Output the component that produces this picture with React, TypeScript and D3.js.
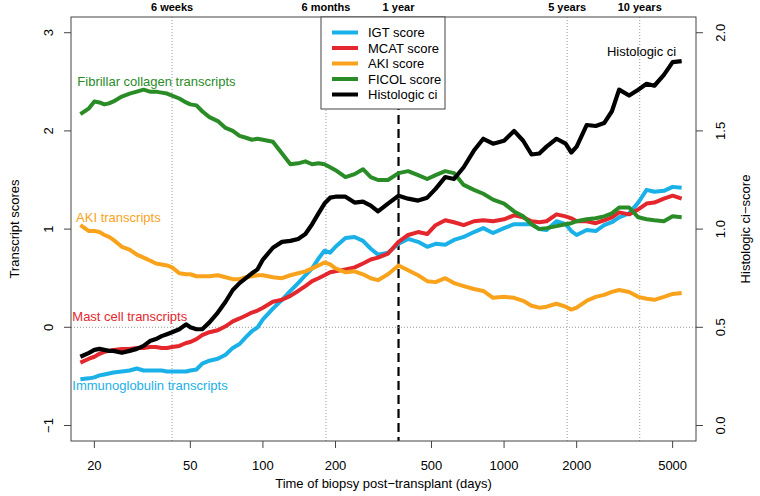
import * as d3 from 'd3'
import React, { useEffect, useRef } from 'react'

// time points (days post-transplant) shared by all running averages
const days = [17.5, 19, 20, 21, 22, 23, 24, 26, 28, 30, 32, 34, 36, 38, 40, 42, 45, 48, 50, 53,
  56, 60, 65, 70, 75, 80, 85, 90, 95, 100, 110, 120, 130, 140, 150, 160, 170, 180, 190, 200,
  220, 240, 260, 280, 300, 330, 365, 400, 440, 480, 520, 570, 620, 680, 750, 820, 900, 1000, 1100, 1200,
  1300, 1400, 1500, 1650, 1800, 1900, 2000, 2200, 2400, 2600, 2800, 3000, 3300, 3600, 3900, 4200, 4600, 5000, 5450]

const igtScore = [-0.53, -0.52, -0.51, -0.49, -0.48, -0.47, -0.46, -0.45, -0.44, -0.42,
  -0.44, -0.44, -0.44, -0.44, -0.45, -0.45, -0.45, -0.45, -0.44, -0.43,
  -0.37, -0.34, -0.32, -0.28, -0.21, -0.17, -0.10, -0.04, 0.00, 0.08,
  0.19, 0.28, 0.37, 0.45, 0.53, 0.60, 0.70, 0.78, 0.76, 0.82,
  0.91, 0.92, 0.88, 0.80, 0.74, 0.76, 0.85, 0.90, 0.87, 0.82,
  0.85, 0.84, 0.89, 0.92, 0.97, 1.01, 0.96, 1.01, 1.05, 1.05,
  1.05, 1.00, 0.99, 1.08, 1.05, 0.98, 0.94, 0.99, 0.98, 1.04,
  1.07, 1.12, 1.16, 1.27, 1.40, 1.38, 1.39, 1.43, 1.42]

const mcatScore = [-0.36, -0.32, -0.30, -0.27, -0.25, -0.24, -0.23, -0.22, -0.22, -0.21,
  -0.21, -0.20, -0.20, -0.21, -0.21, -0.20, -0.19, -0.16, -0.15, -0.12,
  -0.08, -0.05, -0.03, 0.01, 0.06, 0.09, 0.12, 0.15, 0.17, 0.20,
  0.26, 0.28, 0.32, 0.37, 0.42, 0.47, 0.50, 0.53, 0.56, 0.57,
  0.59, 0.61, 0.65, 0.69, 0.71, 0.75, 0.87, 0.94, 0.97, 0.95,
  1.04, 1.09, 1.07, 1.04, 1.08, 1.09, 1.08, 1.10, 1.14, 1.12,
  1.08, 1.07, 1.08, 1.15, 1.13, 1.11, 1.08, 1.08, 1.06, 1.09,
  1.12, 1.17, 1.15, 1.20, 1.26, 1.27, 1.31, 1.34, 1.31]

const akiScore = [1.04, 0.98, 0.98, 0.97, 0.94, 0.92, 0.89, 0.82, 0.79, 0.74,
  0.71, 0.68, 0.65, 0.64, 0.63, 0.61, 0.55, 0.54, 0.54, 0.52,
  0.52, 0.52, 0.53, 0.51, 0.49, 0.49, 0.51, 0.52, 0.53, 0.53,
  0.51, 0.50, 0.53, 0.55, 0.57, 0.60, 0.63, 0.66, 0.64, 0.60,
  0.56, 0.57, 0.54, 0.50, 0.48, 0.54, 0.63, 0.58, 0.53, 0.47,
  0.46, 0.50, 0.45, 0.42, 0.39, 0.37, 0.30, 0.31, 0.30, 0.27,
  0.22, 0.20, 0.21, 0.24, 0.21, 0.18, 0.20, 0.27, 0.31, 0.33,
  0.36, 0.38, 0.36, 0.31, 0.29, 0.28, 0.31, 0.34, 0.35]

const ficolScore = [2.17, 2.23, 2.30, 2.29, 2.27, 2.28, 2.30, 2.35, 2.38, 2.40,
  2.42, 2.40, 2.40, 2.39, 2.38, 2.36, 2.33, 2.29, 2.27, 2.26,
  2.20, 2.14, 2.10, 2.03, 2.00, 1.95, 1.93, 1.91, 1.92, 1.91,
  1.89, 1.77, 1.66, 1.67, 1.69, 1.66, 1.67, 1.66, 1.63, 1.60,
  1.53, 1.56, 1.61, 1.53, 1.50, 1.50, 1.57, 1.59, 1.55, 1.51,
  1.55, 1.59, 1.57, 1.45, 1.40, 1.36, 1.30, 1.26, 1.18, 1.13,
  1.05, 1.00, 1.01, 1.03, 1.05, 1.06, 1.08, 1.10, 1.11, 1.13,
  1.16, 1.22, 1.22, 1.12, 1.10, 1.09, 1.08, 1.13, 1.12]

// histologic ci-score (right axis)
const histologicCi = [0.35, 0.37, 0.385, 0.39, 0.385, 0.38, 0.38, 0.37, 0.38, 0.39,
  0.405, 0.43, 0.44, 0.455, 0.465, 0.475, 0.49, 0.515, 0.50, 0.49,
  0.49, 0.525, 0.575, 0.63, 0.69, 0.725, 0.75, 0.775, 0.795, 0.845,
  0.905, 0.935, 0.94, 0.95, 0.975, 1.025, 1.08, 1.13, 1.16, 1.165,
  1.165, 1.135, 1.14, 1.12, 1.09, 1.13, 1.17, 1.155, 1.145, 1.16,
  1.205, 1.265, 1.255, 1.315, 1.40, 1.46, 1.435, 1.45, 1.50, 1.45,
  1.38, 1.385, 1.42, 1.46, 1.435, 1.39, 1.42, 1.53, 1.525, 1.54,
  1.60, 1.71, 1.68, 1.71, 1.74, 1.73, 1.785, 1.85, 1.855]

const xTicks = [20, 50, 100, 200, 500, 1000, 2000, 5000]
const leftTicks = [-1, 0, 1, 2, 3]
const rightTicks = [0, 0.5, 1, 1.5, 2]
const milestoneLabels = ['6 weeks', '6 months', '1 year', '5 years', '10 years']
const milestoneDays = [42, 182.5, 365, 1826, 3652]

const seriesNames = ['IGT score', 'MCAT score', 'AKI score', 'FICOL score', 'Histologic ci']
const seriesColors = ['#1ab0e8', '#e3272d', '#f8a31b', '#2a8c27', '#000000']

const App = () => {
  const ref = useRef(null)

  useEffect(() => {
    const width = 760
    const height = 496
    const m = { left: 71, right: 696, top: 17, bottom: 441 }
    const font = 'Liberation Sans, Arial, Helvetica, sans-serif'

    const svg = d3.select(ref.current).attr('width', width).attr('height', height)
    svg.selectAll('*').remove()

    const x = d3.scaleLog().domain([16.0, 6250]).range([m.left, m.right])
    const yL = d3.scaleLinear().domain([-1.158, 3.16]).range([m.bottom, m.top])
    const yR = d3.scaleLinear().domain([(-1.158 + 1) / 2, (3.16 + 1) / 2]).range([m.bottom, m.top])

    const g = svg.append('g').attr('font-family', font)

    // reference lines
    milestoneDays.forEach((d, i) => {
      const isYear = i === 2
      g.append('line')
        .attr('x1', x(d)).attr('x2', x(d))
        .attr('y1', m.top).attr('y2', m.bottom)
        .attr('stroke', isYear ? '#000' : '#999')
        .attr('stroke-width', isYear ? 2.2 : 1)
        .attr('stroke-dasharray', isYear ? '9,5' : '1,2')
      g.append('text')
        .attr('x', x(d)).attr('y', 11)
        .attr('text-anchor', 'middle')
        .attr('font-size', 11).attr('font-weight', 'bold')
        .text(milestoneLabels[i])
    })
    g.append('line')
      .attr('x1', m.left).attr('x2', m.right)
      .attr('y1', yL(0)).attr('y2', yL(0))
      .attr('stroke', '#999').attr('stroke-dasharray', '1,2')

    // series
    const leftSeries = [igtScore, mcatScore, akiScore, ficolScore]
    leftSeries.forEach((vals, i) => {
      const line = d3.line<number>().x((_, j) => x(days[j])).y(v => yL(v))
      g.append('path')
        .datum(vals)
        .attr('d', line)
        .attr('fill', 'none')
        .attr('stroke', seriesColors[i])
        .attr('stroke-width', 4)
        .attr('stroke-linejoin', 'round')
    })
    const ciLine = d3.line<number>().x((_, j) => x(days[j])).y(v => yR(v))
    g.append('path')
      .datum(histologicCi)
      .attr('d', ciLine)
      .attr('fill', 'none')
      .attr('stroke', '#000')
      .attr('stroke-width', 4.2)
      .attr('stroke-linejoin', 'round')

    // box
    g.append('rect')
      .attr('x', m.left).attr('y', m.top)
      .attr('width', m.right - m.left).attr('height', m.bottom - m.top)
      .attr('fill', 'none').attr('stroke', '#444')

    // x axis
    xTicks.forEach(t => {
      g.append('line').attr('x1', x(t)).attr('x2', x(t))
        .attr('y1', m.bottom).attr('y2', m.bottom + 7).attr('stroke', '#444')
      g.append('text').attr('x', x(t)).attr('y', 470)
        .attr('text-anchor', 'middle').attr('font-size', 13).text(t)
    })
    g.append('text').attr('x', (m.left + m.right) / 2).attr('y', 488)
      .attr('text-anchor', 'middle').attr('font-size', 13)
      .text('Time of biopsy post\u2212transplant (days)')

    // left axis
    leftTicks.forEach(t => {
      g.append('line').attr('x1', m.left - 7).attr('x2', m.left)
        .attr('y1', yL(t)).attr('y2', yL(t)).attr('stroke', '#444')
      g.append('text')
        .attr('transform', `translate(53,${yL(t)}) rotate(-90)`)
        .attr('text-anchor', 'middle').attr('font-size', 13)
        .text(String(t).replace('-', '\u2212'))
    })
    g.append('text')
      .attr('transform', `translate(19,${(m.top + m.bottom) / 2}) rotate(-90)`)
      .attr('text-anchor', 'middle').attr('font-size', 13)
      .text('Transcript scores')

    // right axis
    rightTicks.forEach(t => {
      g.append('line').attr('x1', m.right).attr('x2', m.right + 7)
        .attr('y1', yR(t)).attr('y2', yR(t)).attr('stroke', '#444')
      g.append('text')
        .attr('transform', `translate(725,${yR(t)}) rotate(-90)`)
        .attr('text-anchor', 'middle').attr('font-size', 13)
        .text(t.toFixed(1))
    })
    g.append('text')
      .attr('transform', `translate(750,${(m.top + m.bottom) / 2}) rotate(-90)`)
      .attr('text-anchor', 'middle').attr('font-size', 13)
      .text('Histologic ci\u2212score')

    // in-plot labels
    const labels = [
      { text: 'Fibrillar collagen transcripts', day: 17.0, v: 2.46, color: seriesColors[3], anchor: 'start' },
      { text: 'AKI transcripts', day: 16.8, v: 1.07, color: seriesColors[2], anchor: 'start' },
      { text: 'Mast cell transcripts', day: 16.2, v: 0.06, color: seriesColors[1], anchor: 'start' },
      { text: 'Immunoglobulin transcripts', day: 16.2, v: -0.64, color: seriesColors[0], anchor: 'start' },
    ]
    labels.forEach(l => {
      g.append('text').attr('x', x(l.day)).attr('y', yL(l.v))
        .attr('text-anchor', l.anchor).attr('font-size', 13).attr('fill', l.color)
        .text(l.text)
    })
    g.append('text').attr('x', x(5176)).attr('y', yR(1.88))
      .attr('text-anchor', 'end').attr('font-size', 13).text('Histologic ci')

    // legend
    const lg = g.append('g').attr('transform', `translate(321,${m.top})`)
    lg.append('rect').attr('width', 124).attr('height', 92)
      .attr('fill', '#fff').attr('stroke', '#444')
    seriesNames.forEach((name, i) => {
      const yy = 15.5 + i * 15.5
      lg.append('line').attr('x1', 11).attr('x2', 37).attr('y1', yy).attr('y2', yy)
        .attr('stroke', seriesColors[i]).attr('stroke-width', 4)
      lg.append('text').attr('x', 47).attr('y', yy + 4.5)
        .attr('font-size', 13).text(name)
    })
  }, [])

  return <svg ref={ref} style={{ position: 'absolute', left: 0, top: 0 }}></svg>
}

export default App
